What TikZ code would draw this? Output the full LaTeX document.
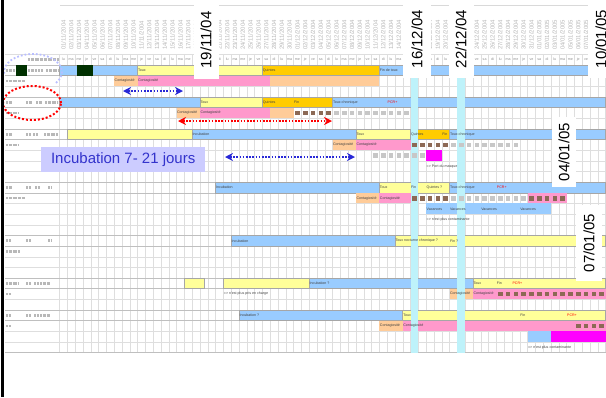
\documentclass[tikz,border=0pt]{standalone}
\usepackage{fontspec}
\setmainfont{Liberation Sans}
\usetikzlibrary{arrows.meta,calendar}

\definecolor{incubblue}{RGB}{153,204,255}
\definecolor{touxyellow}{RGB}{255,255,153}
\definecolor{quintorange}{RGB}{255,204,0}
\definecolor{contpeach}{RGB}{255,204,153}
\definecolor{contpink}{RGB}{255,153,204}
\definecolor{contmagenta}{RGB}{255,0,255}
\definecolor{daycyan}{RGB}{190,242,250}
\definecolor{arrowblue}{RGB}{40,40,215}
\definecolor{boxlilac}{RGB}{204,204,255}
\definecolor{boxtext}{RGB}{51,51,204}
\definecolor{ringlilac}{RGB}{185,190,255}
\definecolor{maskgreen}{RGB}{0,48,0}
\definecolor{glyphbrown}{RGB}{140,105,85}

\newcount\jfirst
\newcount\wday
\pgfcalendardatetojulian{2004-11-01}{\jfirst}

% one column = one day, one row = 10.65px
\newcommand\colx[1]{59.5+7.8*(#1)}
\newcommand\rowy[1]{65+10.65*(#1)}
\newcommand\gbar[4]{\path[#4] ({\colx{#1}},{\rowy{#3}}) rectangle ({\colx{#2}},{\rowy{#3+1}});}
\newcommand\glbl[5][]{\node[lbl,#1] (#2) at ({\colx{#3}},{\rowy{#4+0.5}}) {#5};}
\newcommand\gcells[4]{\foreach \c in {#1,...,#2} \path[#4] ({\colx{\c}+1.6},{\rowy{#3}+3}) rectangle ++(4.6,4.8);}

\begin{document}
\begin{tikzpicture}[x=1pt,y=-1pt,
    lbl/.style={font=\fontsize{3.6}{4}\selectfont,text=black!75,anchor=west,inner sep=0.4pt},
    hdr/.style={font=\fontsize{6}{7}\selectfont,text=black!28,rotate=90,anchor=west,inner sep=0pt},
    daylbl/.style={font=\fontsize{3.6}{4}\selectfont,text=black!45,inner sep=0pt},
    gridln/.style={draw=black!13,line width=0.4pt},
    sepln/.style={draw=black!25,line width=0.6pt},
    main/.style={draw=black!35,line width=0.5pt},
    incub/.style={fill=incubblue},
    toux/.style={fill=touxyellow},
    quinte/.style={fill=quintorange},
    contag/.style={fill=contpeach},
    contagmax/.style={fill=contpink},
    contagvac/.style={fill=contmagenta},
    darkglyph/.style={fill=glyphbrown},
    lightglyph/.style={fill=black!22},
    blurb/.style={draw=black!28,line width=2.6pt,dash pattern=on 0.7pt off 0.6pt},
    datebox/.style={fill=white,rotate=90,inner sep=0pt,font=\fontsize{15}{18}\selectfont},
    dblarrow/.style={line width=1.8pt,dash pattern=on 1.6pt off 1.6pt,<->,>={Stealth[length=8pt,width=8pt]}}]
  \useasboundingbox (0,0) rectangle (606,397);

  % header: dates and week days
  \draw[black!15] (60,5.5) -- (606,5.5);
  \foreach \c in {0,...,69} {
    \edef\jd{\the\numexpr\jfirst+\c\relax}
    \pgfcalendarjuliantodate{\jd}{\yy}{\mm}{\dd}
    \pgfcalendarjuliantoweekday{\jd}{\wday}
    \node[hdr] (hd\c) at ({\colx{\c+0.5}},50) {\dd/\mm/\yy};
    \node[daylbl] (dw\c) at ({\colx{\c+0.5}},{\rowy{-0.5}}) {\ifcase\wday lu\or ma\or me\or je\or ve\or sa\or di\fi};
  }

  % grid
  \foreach \c in {0,...,70}
    \draw[gridln] ({\colx{\c}},{\rowy{-1}}) -- ({\colx{\c}},{\rowy{27}});
  \foreach \k in {-1,...,27}
    \draw[gridln] (5,{\rowy{\k}}) -- (606,{\rowy{\k}});
  \foreach \k in {0,3,6,11,16,20,23} {
    \draw[sepln] (5,{\rowy{\k}}) -- (606,{\rowy{\k}});
    \draw[sepln] (5,{\rowy{\k+1}}) -- (606,{\rowy{\k+1}});
  }
  \draw[sepln] (5,{\rowy{27}}) -- (606,{\rowy{27}});

  % patient 1
  \gbar{0}{10}{0}{incub,main}
  \gbar{10}{26}{0}{toux,main}
  \gbar{26}{41}{0}{quinte,main}
  \gbar{41}{70}{0}{incub,main}
  \gbar{7}{10}{1}{contag}
  \gbar{10}{27}{1}{contagmax}
  \gbar{27}{41}{1}{contag}
  % patient 2
  \gbar{0}{18}{3}{incub,main}
  \gbar{18}{26}{3}{toux,main}
  \gbar{26}{35}{3}{quinte,main}
  \gbar{35}{70}{3}{incub,main}
  \gbar{15}{18}{4}{contag}
  \gbar{18}{27}{4}{contagmax}
  \gbar{27}{30}{4}{contag}
  % patient 3
  \gbar{1}{17}{6}{toux,main}
  \gbar{17}{38}{6}{incub,main}
  \gbar{38}{45}{6}{toux,main}
  \gbar{45}{50}{6}{quinte,main}
  \gbar{50}{70}{6}{incub,main}
  \gbar{35}{38}{7}{contag}
  \gbar{38}{45}{7}{contagmax}
  \gbar{47}{49}{8}{contagvac}
  % patient 4
  \gbar{20}{41}{11}{incub,main}
  \gbar{41}{50}{11}{toux,main}
  \gbar{50}{70}{11}{incub,main}
  \gbar{38}{41}{12}{contag}
  \gbar{41}{45}{12}{contagmax}
  \gbar{60}{65}{12}{contagmax}
  \gbar{47}{63}{13}{incub}
  % patient 5
  \gbar{22}{43}{16}{incub,main}
  \gbar{43}{70}{16}{toux,main}
  % patient 6
  \gbar{16}{18.5}{20}{toux,main}
  \gbar{21}{32}{20}{toux,main}
  \gbar{32}{53}{20}{incub,main}
  \gbar{53}{70}{20}{toux,main}
  \gbar{50}{53}{21}{contag}
  \gbar{53}{70}{21}{contagmax}
  % patient 7
  \gbar{23}{44}{23}{incub,main}
  \gbar{44}{70}{23}{toux,main}
  \gbar{41}{44}{24}{contag}
  \gbar{44}{70}{24}{contagmax}
  \gbar{60}{63}{25}{incub}
  \gbar{63}{70}{25}{contagvac}

  % 16/12 and 22/12
  \foreach \c in {45,51}
    \fill[daycyan] ({\colx{\c}},{\rowy{1}}) rectangle ({\colx{\c+1}},{\rowy{27}});

  \gcells{30}{34}{4}{darkglyph}
  \gcells{35}{44}{4}{lightglyph}
  \gcells{45}{49}{7}{darkglyph}
  \gcells{50}{58}{7}{lightglyph}
  \gcells{40}{46}{8}{lightglyph}
  \gcells{45}{49}{12}{darkglyph}
  \gcells{50}{59}{12}{lightglyph}
  \gcells{60}{64}{12}{darkglyph}
  \gcells{56}{69}{21}{darkglyph}
  \gcells{66}{69}{24}{darkglyph}

  \glbl{p1toux}{10}{0}{Toux}
  \glbl{p1quint}{26}{0}{Quintes}
  \glbl{p1fin}{41}{0}{Fin de toux}
  \glbl{p1cont}{7}{1}{Contagiosité}
  \glbl{p1contmax}{10}{1}{Contagiosité}
  \glbl{p2toux}{18}{3}{Toux}
  \glbl{p2quint}{26}{3}{Quintes}
  \glbl{p2fin}{30}{3}{Fin}
  \glbl{p2chron}{35}{3}{Toux chronique}
  \glbl[text=red]{p2pcr}{42}{3}{PCR+}
  \glbl{p2cont}{15}{4}{Contagiosité}
  \glbl{p2contmax}{18}{4}{Contagiosité}
  \glbl{p3incub}{17}{6}{Incubation}
  \glbl{p3toux}{38}{6}{Toux}
  \glbl{p3quint}{45}{6}{Quintes}
  \glbl{p3fin}{49}{6}{Fin}
  \glbl{p3chron}{50}{6}{Toux chronique}
  \glbl{p3cont}{35}{7}{Contagiosité}
  \glbl{p3contmax}{38}{7}{Contagiosité}
  \glbl{p3note}{47}{9}{=> Port du masque}
  \glbl{p4incub}{20}{11}{Incubation}
  \glbl{p4toux}{41}{11}{Toux}
  \glbl{p4fin}{45}{11}{Fin}
  \glbl{p4quint}{47}{11}{Quintes ?}
  \glbl{p4chron}{50}{11}{Toux chronique}
  \glbl[text=red]{p4pcr}{56}{11}{PCR+}
  \glbl{p4cont}{38}{12}{Contagiosité}
  \glbl{p4contmax}{41}{12}{Contagiosité}
  \glbl{p4vaca}{47}{13}{Vacances}
  \glbl{p4vacb}{50}{13}{Vacances}
  \glbl{p4vacc}{54}{13}{Vacances}
  \glbl{p4vacd}{59}{13}{Vacances}
  \glbl{p4note}{47}{14}{=> n'est plus contaminante}
  \glbl{p5incub}{22}{16}{Incubation}
  \glbl{p5toux}{43}{16}{Toux nocturne chronique ?}
  \glbl{p5fin}{50}{16}{Fin ?}
  \glbl{p6incub}{32}{20}{Incubation ?}
  \glbl{p6toux}{53}{20}{Toux}
  \glbl{p6fin}{56}{20}{Fin}
  \glbl[text=red]{p6pcr}{58}{20}{PCR+}
  \glbl{p6note}{21}{21}{=> n'est plus pris en charge}
  \glbl{p6cont}{50}{21}{Contagiosité}
  \glbl{p6contmax}{53}{21}{Contagiosité}
  \glbl{p7incub}{23}{23}{Incubation ?}
  \glbl{p7toux}{44}{23}{Toux}
  \glbl{p7fin}{59}{23}{Fin}
  \glbl[text=red]{p7pcr}{65}{23}{PCR+}
  \glbl{p7cont}{41}{24}{Contagiosité}
  \glbl{p7contmax}{44}{24}{Contagiosité}
  \glbl{p7note}{60}{26}{=> n'est plus contaminante}

  % case columns on the left
  \foreach \xa/\xb/\k in {28/58/-1,6/14/0,28/36/0,38/43/0,46/58/0,6/25/1,
      6/12/3,26/32/3,36/42/3,45/58/3,6/18/4,6/12/6,26/30/6,33/38/6,44/58/6,6/18/7,
      6/12/11,26/30/11,35/40/11,48/51/11,6/25/12,6/10/16,26/30/16,48/51/16,6/20/17,
      6/18/20,26/30/20,34/38/20,40/50/20,6/10/21,6/10/23,26/30/23,34/38/23,40/50/23,6/10/24}
    \draw[blurb] (\xa,{\rowy{\k+0.5}}) -- (\xb,{\rowy{\k+0.5}});
  \fill[maskgreen] (16,65) rectangle (27,76);
  \fill[maskgreen] (77,65) rectangle (93,76);

  % rings
  \draw[ringlilac,line width=1.8pt,dash pattern=on 1.8pt off 2pt]
    ({33+29*cos(185)},{72-18*sin(185)}) arc[start angle=185,end angle=-40,x radius=29pt,y radius=18pt];
  \draw[red,line width=2pt,dash pattern=on 2pt off 2pt] (32,103) ellipse [x radius=29pt,y radius=17pt];

  % durations
  \coordinate (contA) at (123,91);
  \coordinate (contB) at (183,91);
  \coordinate (spanA) at (178,121);
  \coordinate (spanB) at (332,121);
  \coordinate (incA) at (225,157);
  \coordinate (incB) at (355,157);
  \draw[dblarrow,arrowblue] (contA) -- (contB);
  \draw[dblarrow,red] (spanA) -- (spanB);
  \draw[dblarrow,arrowblue] (incA) -- (incB);

  \node[fill=boxlilac,text=boxtext,font=\fontsize{15}{18}\selectfont,minimum width=164pt,
    minimum height=25pt,inner sep=0pt,anchor=north west] (incubbox) at (41,147) {Incubation 7- 21 jours};

  % dates
  \node[datebox,minimum width=78pt,minimum height=25pt] (d1911) at (206,40) {19/11/04};
  \node[datebox,minimum width=78pt,minimum height=28pt] (d1612) at (417,39) {16/12/04};
  \node[datebox,minimum width=78pt,minimum height=25pt] (d2212) at (461,39) {22/12/04};
  \node[datebox,minimum width=78pt,minimum height=26pt] (d1001) at (601,39) {10/01/05};
  \node[datebox,minimum width=70pt,minimum height=24pt] (d0401) at (564,152) {04/01/05};
  \node[datebox,minimum width=76pt,minimum height=26pt] (d0701) at (589,243) {07/01/05};

  \draw[black,line width=2.5pt] (2.5,0) -- (2.5,397);
\end{tikzpicture}
\end{document}
